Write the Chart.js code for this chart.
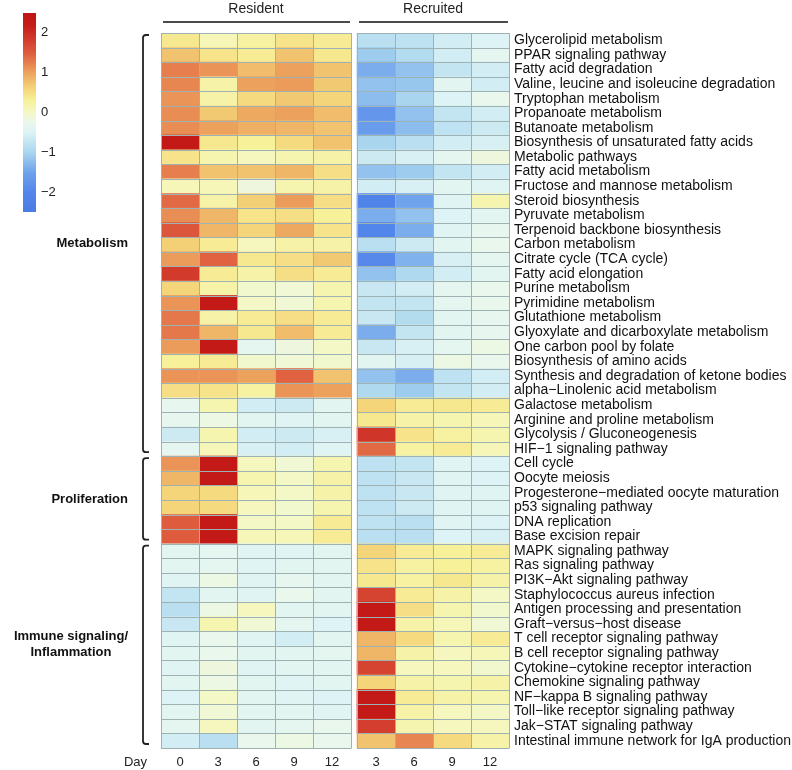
<!DOCTYPE html>
<html>
<head>
<meta charset="utf-8">
<script src="https://cdn.jsdelivr.net/npm/chart.js@4/dist/chart.umd.min.js"></script>
<style>
  html, body { margin: 0; padding: 0; background: #fff; }
  canvas { display: block; }
</style>
</head>
<body>
<canvas id="heat" width="792" height="770"></canvas>
<script>
let pathways = [
  'Glycerolipid metabolism', 'PPAR signaling pathway', 'Fatty acid degradation',
  'Valine, leucine and isoleucine degradation', 'Tryptophan metabolism', 'Propanoate metabolism',
  'Butanoate metabolism', 'Biosynthesis of unsaturated fatty acids', 'Metabolic pathways',
  'Fatty acid metabolism', 'Fructose and mannose metabolism', 'Steroid biosynthesis',
  'Pyruvate metabolism', 'Terpenoid backbone biosynthesis', 'Carbon metabolism',
  'Citrate cycle (TCA cycle)', 'Fatty acid elongation', 'Purine metabolism',
  'Pyrimidine metabolism', 'Glutathione metabolism', 'Glyoxylate and dicarboxylate metabolism',
  'One carbon pool by folate', 'Biosynthesis of amino acids', 'Synthesis and degradation of ketone bodies',
  'alpha\u2212Linolenic acid metabolism', 'Galactose metabolism', 'Arginine and proline metabolism',
  'Glycolysis / Gluconeogenesis', 'HIF\u22121 signaling pathway', 'Cell cycle',
  'Oocyte meiosis', 'Progesterone\u2212mediated oocyte maturation', 'p53 signaling pathway',
  'DNA replication', 'Base excision repair', 'MAPK signaling pathway',
  'Ras signaling pathway', 'PI3K\u2212Akt signaling pathway', 'Staphylococcus aureus infection',
  'Antigen processing and presentation', 'Graft\u2212versus\u2212host disease', 'T cell receptor signaling pathway',
  'B cell receptor signaling pathway', 'Cytokine\u2212cytokine receptor interaction', 'Chemokine signaling pathway',
  'NF\u2212kappa B signaling pathway', 'Toll\u2212like receptor signaling pathway', 'Jak\u2212STAT signaling pathway',
  'Intestinal immune network for IgA production'
];

// z-scores, one array per column (rows in the order above)
let resDay0 = [0.4,0.75,1.25,1.2,1.1,1.15,1.15,2.3,0.45,1.25,0.1,1.4,1.15,1.55,0.65,1.05,1.85,0.6,1.1,1.3,1.3,1.05,0.3,1.1,0.5,-0.3,-0.3,-0.65,-0.35,1.1,0.85,0.6,0.6,1.5,1.5,-0.4,-0.4,-0.45,-0.75,-0.85,-0.7,-0.45,-0.4,-0.45,-0.4,-0.5,-0.4,-0.35,-0.6];
let resDay3 = [0.1,0.45,1.1,0.2,0.2,0.7,1.0,0.4,0.15,0.75,0.1,0.2,0.85,0.85,0.35,1.45,0.35,0.2,2.3,0.2,0.85,2.35,0.35,1.1,0.45,0.15,-0.2,0.15,0.1,2.35,2.35,0.55,0.55,2.35,2.3,-0.35,-0.35,-0.2,-0.4,-0.2,0.15,-0.25,-0.25,-0.15,-0.2,0.0,-0.1,0.05,-0.85];
let resDay6 = [0.25,0.35,0.8,1.0,0.55,0.95,0.9,0.3,0.05,0.75,-0.15,0.65,0.45,0.6,0.05,0.4,0.2,-0.05,0.0,0.35,0.4,-0.35,-0.05,1.0,0.25,-0.6,-0.4,-0.6,-0.55,0.05,0.15,0.1,0.05,0.0,0.1,-0.45,-0.45,-0.45,-0.45,0.05,-0.1,-0.45,-0.4,-0.45,-0.4,-0.4,-0.4,-0.4,-0.25];
let resDay9 = [0.45,0.75,1.0,1.05,0.7,1.0,0.85,0.55,0.15,0.85,0.15,1.05,0.5,0.95,0.2,0.5,0.5,-0.1,-0.1,0.5,0.8,-0.15,-0.1,1.45,1.1,-0.65,-0.45,-0.65,-0.6,-0.1,0.0,0.0,-0.05,0.0,0.1,-0.45,-0.4,-0.3,-0.25,-0.4,-0.35,-0.6,-0.4,-0.4,-0.45,-0.45,-0.4,-0.35,-0.2];
let resDay12 = [0.35,0.4,0.75,0.7,0.6,0.8,0.75,0.75,0.2,0.5,0.2,0.5,0.3,0.45,0.2,0.7,0.35,0.15,0.15,0.35,0.35,0.0,-0.05,0.75,1.0,-0.4,-0.4,-0.55,-0.45,0.15,0.2,0.2,0.15,0.35,0.35,-0.4,-0.4,-0.4,-0.4,-0.4,-0.5,-0.4,-0.35,-0.4,-0.4,-0.5,-0.45,-0.25,-0.25];
let recDay3 = [-0.85,-1.1,-1.4,-1.2,-1.25,-1.7,-1.6,-1.0,-0.65,-1.2,-0.6,-2.1,-1.4,-2.0,-0.85,-1.95,-1.2,-0.7,-0.75,-0.7,-1.4,-0.7,-0.4,-1.2,-0.95,0.6,0.4,1.9,1.4,-0.8,-0.8,-0.8,-0.8,-0.8,-0.85,0.6,0.45,0.4,1.75,2.3,2.35,0.85,0.85,1.75,0.6,2.3,2.3,1.8,0.75];
let recDay6 = [-0.8,-0.9,-1.2,-1.15,-1.0,-1.2,-1.25,-0.85,-0.55,-1.1,-0.55,-1.5,-1.2,-1.4,-0.65,-1.35,-0.95,-0.6,-0.75,-0.9,-0.75,-0.55,-0.55,-1.4,-1.1,0.35,0.2,0.45,0.25,-0.75,-0.7,-0.7,-0.65,-0.85,-0.85,0.35,0.25,0.25,0.35,0.5,0.2,0.55,0.2,0.05,0.2,0.35,0.2,0.15,1.2];
let recDay9 = [-0.6,-0.6,-0.75,-0.4,-0.5,-0.75,-0.8,-0.6,-0.35,-0.75,-0.4,-0.45,-0.5,-0.45,-0.4,-0.55,-0.6,-0.35,-0.35,-0.4,-0.4,-0.35,-0.2,-0.8,-0.75,0.4,0.15,0.25,0.35,-0.45,-0.45,-0.45,-0.45,-0.45,-0.5,0.3,0.3,0.4,0.2,0.15,0.1,0.15,0.05,0.05,0.15,0.2,0.05,0.05,0.55];
let recDay12 = [-0.5,-0.35,-0.6,-0.6,-0.25,-0.6,-0.65,-0.55,-0.15,-0.6,-0.45,0.15,-0.4,-0.3,-0.25,-0.35,-0.4,-0.25,-0.25,-0.3,-0.3,-0.2,-0.25,-0.6,-0.6,0.35,0.1,0.15,0.1,-0.5,-0.5,-0.45,-0.45,-0.5,-0.55,0.35,0.25,0.2,0.0,-0.05,-0.1,0.35,0.1,-0.05,0.2,0.15,0.0,0.05,0.2];

let columns = [resDay0, resDay3, resDay6, resDay9, resDay12, recDay3, recDay6, recDay9, recDay12];
let dayLabels = ['0', '3', '6', '9', '12', '3', '6', '9', '12'];
let blocks = ['Resident', 'Recruited'];
let blockCols = [5, 4];
let groups = [
  {name: 'Metabolism', first: 0, last: 28},
  {name: 'Proliferation', first: 29, last: 34},
  {name: 'Immune signaling/\nInflammation', first: 35, last: 48}
];
let legendTicks = [2, 1, 0, -1, -2];
let zMin = -2.5, zMax = 2.5;

// colour ramp blue - white - yellow - red
let stops = [
  [-2.5, [75, 123, 229]], [-2.0, [83, 134, 234]], [-1.5, [111, 163, 236]],
  [-1.0, [169, 214, 238]], [-0.5, [221, 243, 245]], [-0.25, [234, 247, 236]],
  [0.0, [244, 248, 198]], [0.3, [247, 241, 154]], [0.6, [244, 213, 122]],
  [0.9, [239, 176, 100]], [1.2, [231, 134, 80]], [1.5, [222, 91, 61]],
  [1.9, [208, 53, 42]], [2.2, [197, 28, 24]], [2.5, [192, 21, 21]]
];
function colorFor(v) {
  if (v <= stops[0][0]) return 'rgb(' + stops[0][1].join(',') + ')';
  for (let i = 1; i < stops.length; i++) {
    if (v <= stops[i][0]) {
      let a = stops[i-1], b = stops[i];
      let t = (v - a[0]) / (b[0] - a[0]);
      let c = a[1].map((x, k) => Math.round(x + (b[1][k] - x) * t));
      return 'rgb(' + c.join(',') + ')';
    }
  }
  return 'rgb(' + stops[stops.length-1][1].join(',') + ')';
}

let gap = 6 / 38;
let colStart = [];
let pos = 0;
blockCols.forEach(n => {
  for (let j = 0; j < n; j++) colStart.push(pos + j);
  pos += n + gap;
});
let xMax = pos - gap;

let font = "'Liberation Sans', Arial, Helvetica, sans-serif";

let datasets = columns.map((vals, j) => ({
  data: vals.map(() => [colStart[j], colStart[j] + 1]),
  backgroundColor: vals.map(v => colorFor(v)),
  borderWidth: 0,
  grouped: false,
  barPercentage: 1,
  categoryPercentage: 1
}));

let decor = {
  id: 'decor',
  afterDatasetsDraw(chart) {
    let ctx = chart.ctx;
    let xs = chart.scales.x;
    let top = chart.chartArea.top, bottom = chart.chartArea.bottom;
    let h = (bottom - top) / pathways.length;
    let rowY = r => top + r * h;

    ctx.save();
    let c0 = 0;
    blockCols.forEach((n, b) => {
      let xl = xs.getPixelForValue(colStart[c0]);
      let xr = xs.getPixelForValue(colStart[c0 + n - 1] + 1);

      // cell borders
      ctx.strokeStyle = '#9fb2b3';
      ctx.lineWidth = 1;
      ctx.beginPath();
      for (let r = 0; r <= pathways.length; r++) {
        let y = Math.round(rowY(r)) + 0.5;
        ctx.moveTo(xl, y); ctx.lineTo(xr, y);
      }
      for (let j = 0; j <= n; j++) {
        let x = j < n ? xs.getPixelForValue(colStart[c0 + j]) : xr;
        x = Math.round(x) + 0.5;
        ctx.moveTo(x, top); ctx.lineTo(x, bottom + 0.5);
      }
      ctx.stroke();

      // block header
      ctx.beginPath();
      ctx.strokeStyle = '#111';
      ctx.lineWidth = 1.6;
      ctx.moveTo(xl + 2, 22); ctx.lineTo(xr - 1, 22);
      ctx.stroke();
      ctx.fillStyle = '#222';
      ctx.font = '14px ' + font;
      ctx.textAlign = 'center';
      ctx.textBaseline = 'middle';
      ctx.fillText(blocks[b], (xl + xr) / 2, 9);
      c0 += n;
    });

    // group brackets and names
    ctx.strokeStyle = '#222';
    ctx.lineWidth = 1.8;
    groups.forEach(g => {
      let y0 = rowY(g.first) + 2, y1 = rowY(g.last + 1) - 4;
      let bx = 143, tx = 149, rr = 3;
      ctx.beginPath();
      ctx.moveTo(tx, y0);
      ctx.lineTo(bx + rr, y0);
      ctx.quadraticCurveTo(bx, y0, bx, y0 + rr);
      ctx.lineTo(bx, y1 - rr);
      ctx.quadraticCurveTo(bx, y1, bx + rr, y1);
      ctx.lineTo(tx, y1);
      ctx.stroke();

      let lines = g.name.split('\n');
      ctx.font = 'bold 13px ' + font;
      ctx.fillStyle = '#111';
      ctx.textBaseline = 'middle';
      let w = Math.max(...lines.map(l => ctx.measureText(l).width));
      let cx = 128 - w / 2;
      let cy = (y0 + y1) / 2;
      ctx.textAlign = 'center';
      lines.forEach((l, i) => {
        ctx.fillText(l, cx, cy + (i - (lines.length - 1) / 2) * 16);
      });
    });

    // Day label
    ctx.font = '13px ' + font;
    ctx.fillStyle = '#222';
    ctx.textAlign = 'right';
    ctx.textBaseline = 'middle';
    ctx.fillText('Day', 147, 762);

    // colour key
    let kx = 23, kw = 13, ky0 = 13, ky1 = 212;
    let grad = ctx.createLinearGradient(0, ky0, 0, ky1);
    stops.forEach(s => {
      grad.addColorStop((zMax - s[0]) / (zMax - zMin), colorFor(s[0]));
    });
    ctx.fillStyle = grad;
    ctx.fillRect(kx, ky0, kw, ky1 - ky0);
    ctx.fillStyle = '#222';
    ctx.textAlign = 'left';
    legendTicks.forEach(t => {
      let y = ky0 + (zMax - t) / (zMax - zMin) * (ky1 - ky0);
      ctx.fillText(String(t).replace('-', '\u2212'), kx + kw + 5, y);
    });
    ctx.restore();
  }
};

new Chart(document.getElementById('heat'), {
  type: 'bar',
  data: {labels: pathways, datasets: datasets},
  options: {
    indexAxis: 'y',
    responsive: false,
    animation: false,
    layout: {padding: {left: 161, top: 33, right: 0, bottom: 0}},
    plugins: {legend: {display: false}, tooltip: {enabled: false}},
    scales: {
      x: {
        type: 'linear', min: 0, max: xMax,
        grid: {display: false, drawTicks: false}, border: {display: false},
        afterBuildTicks: s => { s.ticks = colStart.map(p => ({value: p + 0.5})); },
        afterFit: s => { s.height = 22; },
        ticks: {
          autoSkip: false, maxRotation: 0, padding: 7,
          color: '#222', font: {family: font, size: 13},
          callback: (v, i) => dayLabels[i]
        }
      },
      y: {
        type: 'category', position: 'right',
        grid: {display: false, drawTicks: false}, border: {display: false},
        afterFit: s => { s.width = 283; },
        ticks: {autoSkip: false, padding: 5, color: '#111', font: {family: font, size: 14}}
      }
    }
  },
  plugins: [decor]
});
</script>
</body>
</html>
